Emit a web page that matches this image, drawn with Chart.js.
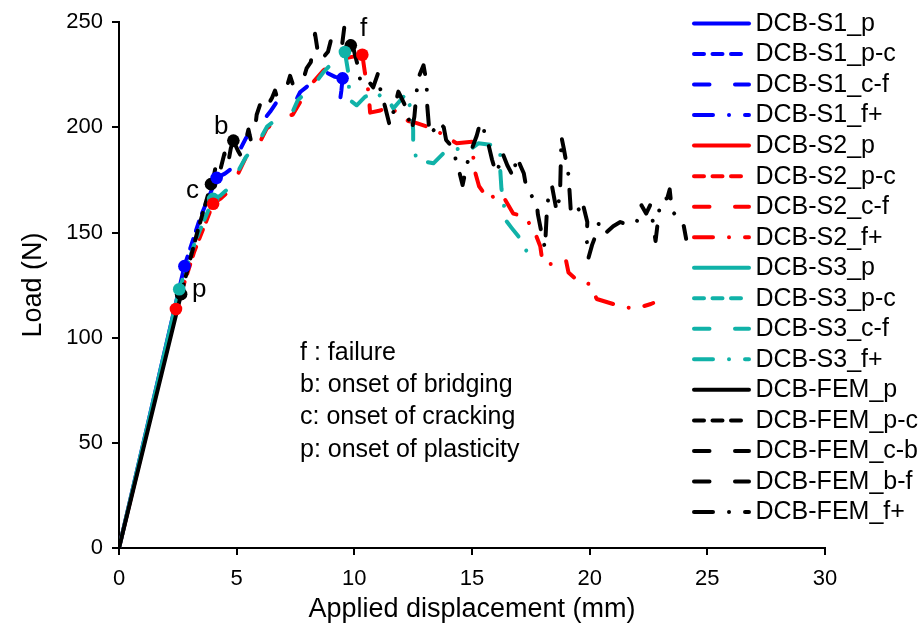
<!DOCTYPE html>
<html><head><meta charset="utf-8">
<script src="https://cdn.jsdelivr.net/npm/chart.js@4/dist/chart.umd.min.js"></script>
<style>html,body{margin:0;padding:0;background:#fff;overflow:hidden}canvas{display:block}</style>
</head><body>
<canvas id="c" width="921" height="632" style="width:921px;height:632px"></canvas>
<script>
const FONT = '"Liberation Sans", Arial, Helvetica, sans-serif';

// ---- data: [displacement (mm), load (N)] ----
const S1_P  = [[0,0],[2.78,134]];
const S1_PC = [[2.78,134],[3.45,157],[4.15,176]];
const S1_CF = [[4.15,176],[4.5,178],[4.85,181],[5.06,187.6],[5.4,195],[5.78,199.5],[6.1,203],[6.42,207.4],[6.7,212],[7.1,210.5],[7.48,212],[7.7,216.8],[7.95,219],[8.4,223.5],[8.83,226],[9.18,224],[9.5,223.3]];
const S1_F  = [[9.5,223.3],[9.45,217.5],[9.4,213.5]];

const S2_P  = [[0,0],[2.42,113.6]];
const S2_PC = [[2.42,113.6],[3.2,141],[4.0,163.7]];
const S2_CF = [[4.0,163.7],[4.3,166],[4.58,168.7],[5.0,176.6],[5.36,185],[5.85,190],[6.28,199.5],[6.9,205],[7.38,206],[7.7,212],[8.19,220.8],[8.68,227],[9.1,231],[9.5,232.6],[9.9,233.5],[10.34,234.5]];
const S2_F  = [[10.34,234.5],[10.45,226],[10.6,217],[10.67,207],[11.1,208],[11.5,210],[11.9,206],[12.3,203],[12.65,202],[13.2,200],[13.7,197],[14.35,192.4],[15.0,193.2],[15.1,180],[15.3,172],[15.7,165.6],[16.1,168.6],[16.4,165.7],[16.75,159],[17.2,157.7],[17.6,152],[17.9,143.5],[18.0,135.6],[18.5,134.8],[19.0,136.4],[19.1,131],[19.5,127],[20.0,125.5],[20.3,118.4],[21.0,116],[21.6,114.3],[22.0,114],[22.6,116],[22.7,116.5]];

const S3_P  = [[0,0],[2.56,123]];
const S3_PC = [[2.56,123],[3.25,146],[4.0,166]];
const S3_CF = [[4.0,166],[4.3,167.5],[4.6,170.5],[5.0,178],[5.4,186],[5.85,191.5],[6.3,200.5],[6.9,205.5],[7.4,208],[7.6,213],[8.2,219],[8.67,226],[9.1,231],[9.46,234],[9.6,235.8]];
const S3_F  = [[9.6,235.8],[9.74,226.3],[9.8,213],[10.1,210.5],[10.45,214.5],[10.95,216.8],[11.2,213.7],[11.5,212],[11.66,209],[12.2,216],[12.44,207.4],[12.5,198.7],[12.5,191.7],[12.65,184.5],[13.36,182.9],[13.85,188.4],[14.5,190],[14.9,189.3],[15.27,192.4],[15.9,191.6],[16.2,188.4],[16.2,179.8],[16.25,171],[16.33,164.8],[16.47,155.3],[16.69,152.1],[16.97,148.2],[17.4,139.5]];

const FEM_P  = [[0,0],[2.64,120.7]];
const FEM_PC = [[2.64,120.7],[3.3,149],[3.91,173]];
const FEM_CB = [[3.91,173],[4.05,178],[4.17,185],[4.3,179.5],[4.48,187.6],[4.6,180.5],[4.75,190],[4.86,193.7]];
const FEM_BF = [[4.86,193.7],[5.05,189],[5.2,186],[5.35,192],[5.5,199],[5.62,193],[5.75,196],[5.85,206],[6.0,211],[6.1,206.6],[6.3,210],[6.5,214],[6.63,217.5],[6.75,213],[6.95,216],[7.15,220],[7.27,224.5],[7.4,220],[7.6,222],[7.76,220],[7.97,228],[8.15,231],[8.33,244.5],[8.45,235.8],[8.54,239],[8.7,233.5],[8.88,236],[9.04,243],[9.25,240],[9.46,237.4],[9.6,250],[9.73,246.8],[9.85,239]];
const FEM_F  = [[9.85,239],[9.95,238],[10.16,228.7],[10.24,223],[10.38,224.7],[10.6,222],[10.8,219],[11.0,225.5],[11.1,218.4],[11.3,210],[11.5,201],[11.7,209],[11.87,217],[12.0,214],[12.15,210.5],[12.44,198.7],[12.55,205],[12.7,223],[12.94,229.5],[13.08,220.8],[13.08,212.9],[13.13,206],[13.2,196.5],[13.4,199],[13.6,202.6],[13.8,200],[13.9,194],[14.07,191.8],[14.2,188],[14.35,183.7],[14.6,172.6],[14.8,183],[15.0,190],[15.2,196],[15.34,201.8],[15.47,201.8],[15.56,194.8],[15.7,191.8],[15.85,184.7],[16.0,179],[16.05,178.2],[16.3,187.6],[16.5,182],[16.75,176.6],[16.9,186],[17.05,182],[17.2,178.2],[17.3,171.9],[17.5,168],[17.75,164],[17.8,158.6],[17.95,150],[18.1,142.6],[18.2,164],[18.4,172],[18.6,160],[18.74,168],[18.8,195.5],[18.9,190],[19.1,177.4],[19.2,160],[19.4,163],[19.6,160],[19.7,164],[19.9,155],[19.87,147],[19.95,138],[20.1,144],[20.3,150],[20.4,155],[20.7,150],[21.0,153],[21.3,155],[21.6,153.7],[21.85,154.5],[22.0,155],[22.2,163],[22.4,159],[22.57,163],[22.7,154],[22.8,146],[23.0,164.8],[23.3,166.4],[23.4,170.5],[23.5,160],[23.8,157],[24.0,153],[24.1,147]];

// key points (p, c, [b], f)
const S1_MARKS  = [[2.78,134],[4.15,176],[9.5,223.3]];
const S2_MARKS  = [[2.42,113.6],[4.0,163.7],[10.34,234.5]];
const S3_MARKS  = [[2.56,123],[4.0,166],[9.6,235.8]];
const FEM_MARKS = [[2.64,120.7],[3.91,173],[4.86,193.7],[9.85,239]];

// text
const LETTERS  = ['f','b','c','p'];
const LETTER_AT = [[10.24,243.4],[4.04,197],[2.85,166.2],[3.1,119.3]];
const NOTES = ['f : failure','b: onset of bridging','c: onset of cracking','p: onset of plasticity'];
const X_TITLE = 'Applied displacement (mm)';
const Y_TITLE = 'Load (N)';

// ---- styles ----
const BLUE = '#0000ff', RED = '#ff0000', TEAL = '#10b2a8', BLACK = '#000000';
const LW = 4;
const DASH = { solid: [], short: [10, 8.5], long: [15.5, 25.5], dashdot: [19, 16, 0.01, 16] };

const toXY = a => a.map(p => ({x: p[0], y: p[1]}));
function lineDs(label, data, color, dash, order) {
  return { label, data: toXY(data), borderColor: color, backgroundColor: color, borderWidth: LW,
    borderDash: dash, borderCapStyle: 'round', borderJoinStyle: 'round', pointRadius: 0,
    showLine: true, fill: false, tension: 0, order, legendEntry: true };
}
function markDs(data, color, order) {
  return { label: '', data: toXY(data), showLine: false, pointRadius: 6.3, pointHoverRadius: 6.3,
    pointBackgroundColor: color, pointBorderColor: color, pointBorderWidth: 0, order, legendEntry: false };
}

const datasets = [
  lineDs('DCB-S1_p', S1_P, BLUE, DASH.solid, 4),
  lineDs('DCB-S1_p-c', S1_PC, BLUE, DASH.short, 4),
  lineDs('DCB-S1_c-f', S1_CF, BLUE, DASH.long, 4),
  lineDs('DCB-S1_f+', S1_F, BLUE, DASH.dashdot, 4),
  lineDs('DCB-S2_p', S2_P, RED, DASH.solid, 3),
  lineDs('DCB-S2_p-c', S2_PC, RED, DASH.short, 3),
  lineDs('DCB-S2_c-f', S2_CF, RED, DASH.long, 3),
  lineDs('DCB-S2_f+', S2_F, RED, DASH.dashdot, 3),
  lineDs('DCB-S3_p', S3_P, TEAL, DASH.solid, 2),
  lineDs('DCB-S3_p-c', S3_PC, TEAL, DASH.short, 2),
  lineDs('DCB-S3_c-f', S3_CF, TEAL, DASH.long, 2),
  lineDs('DCB-S3_f+', S3_F, TEAL, DASH.dashdot, 2),
  lineDs('DCB-FEM_p', FEM_P, BLACK, DASH.solid, 1),
  lineDs('DCB-FEM_p-c', FEM_PC, BLACK, DASH.short, 1),
  lineDs('DCB-FEM_c-b', FEM_CB, BLACK, DASH.long, 1),
  lineDs('DCB-FEM_b-f', FEM_BF, BLACK, DASH.long, 1),
  lineDs('DCB-FEM_f+', FEM_F, BLACK, DASH.dashdot, 1),
  markDs(FEM_MARKS, BLACK, -1),
  markDs(S1_MARKS, BLUE, -2),
  markDs(S3_MARKS, TEAL, -3),
  markDs(S2_MARKS, RED, -4)
];

const overlay = {
  id: 'overlay',
  afterDatasetsDraw(chart) {
    const {ctx, scales: {x, y}} = chart;
    ctx.save();
    ctx.fillStyle = '#000';
    ctx.textAlign = 'left';
    ctx.textBaseline = 'alphabetic';
    ctx.font = '26px ' + FONT;
    LETTERS.forEach((t, i) => ctx.fillText(t, x.getPixelForValue(LETTER_AT[i][0]), y.getPixelForValue(LETTER_AT[i][1])));
    ctx.font = '25px ' + FONT;
    NOTES.forEach((t, i) => ctx.fillText(t, 300, 360 + i * 32.2));
    // legend
    const items = chart.data.datasets.filter(d => d.legendEntry);
    ctx.font = '25px ' + FONT;
    ctx.textBaseline = 'middle';
    items.forEach((d, i) => {
      const yy = 23.5 + i * 30.53;
      ctx.strokeStyle = d.borderColor;
      ctx.lineWidth = LW;
      ctx.lineCap = 'round';
      ctx.setLineDash(d.borderDash);
      ctx.beginPath();
      ctx.moveTo(694, yy);
      ctx.lineTo(749, yy);
      ctx.stroke();
      ctx.setLineDash([]);
      ctx.fillStyle = '#000';
      ctx.fillText(d.label, 755.5, yy + 0.5);
    });
    ctx.restore();
  }
};

Chart.defaults.font.family = FONT;
Chart.defaults.color = '#000';

new Chart(document.getElementById('c'), {
  type: 'line',
  data: { datasets },
  options: {
    responsive: false, animation: false, devicePixelRatio: 1,
    layout: { padding: { left: 0, right: 96, top: 20, bottom: 0 } },
    plugins: { legend: { display: false }, tooltip: { enabled: false } },
    events: [],
    scales: {
      x: {
        type: 'linear', min: 0, max: 30,
        ticks: { stepSize: 5, color: '#000', font: { size: 22 }, padding: 11 },
        grid: { drawOnChartArea: false, drawTicks: true, tickLength: 7, color: '#000', lineWidth: 2 },
        border: { display: true, color: '#000', width: 2 },
        title: { display: true, text: X_TITLE, color: '#000', font: { size: 27 }, padding: { top: 0, bottom: 6 } },
        afterFit(s) { s.height = 84; }
      },
      y: {
        type: 'linear', min: 0, max: 250,
        ticks: { stepSize: 50, color: '#000', font: { size: 22 }, padding: 9 },
        grid: { drawOnChartArea: false, drawTicks: true, tickLength: 7, color: '#000', lineWidth: 2 },
        border: { display: true, color: '#000', width: 2 },
        title: { display: true, text: Y_TITLE, color: '#000', font: { size: 27 }, padding: { top: 17, bottom: 0 } },
        afterFit(s) { s.width = 119; }
      }
    }
  },
  plugins: [overlay]
});
</script>
</body></html>
